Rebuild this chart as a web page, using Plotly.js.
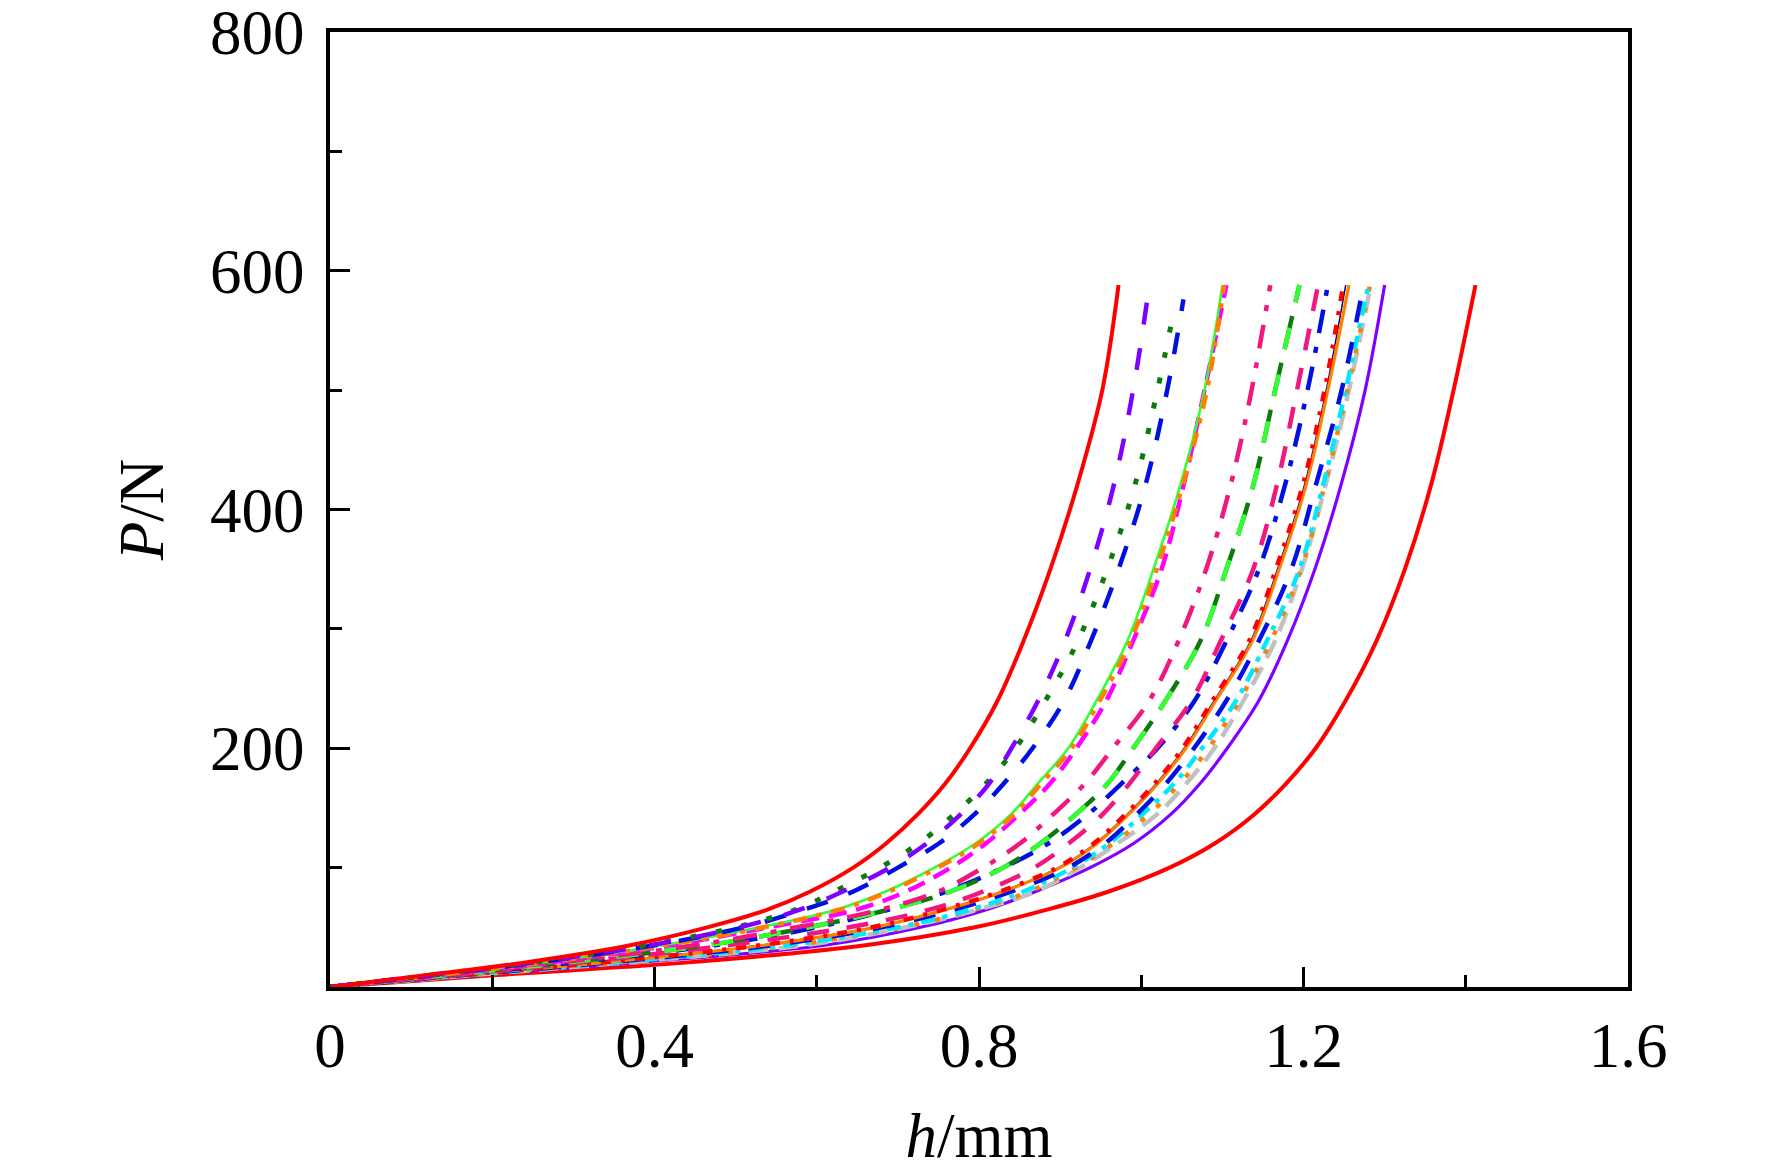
<!DOCTYPE html>
<html>
<head>
<meta charset="utf-8">
<script src="https://cdn.plot.ly/plotly-3.0.1.min.js"></script>
<style>
  html, body { margin: 0; padding: 0; background: #fff; }
  #chart { width: 1772px; height: 1171px; }
</style>
</head>
<body>
<div id="chart"></div>
<script>
// ---------- data (P in N, h in mm) ----------
const pLevels   = [0, 10, 20, 35, 50, 65, 80, 100, 120, 145, 170, 200, 240, 290, 350, 420, 500, 588];
const pDotGreen = [0, 10, 20, 35, 50, 65, 80, 100, 120, 145, 170, 200, 240, 290, 350, 420, 500, 566];
const pDashBlue = [0, 10, 20, 35, 50, 65, 80, 100, 120, 145, 170, 200, 240, 290, 350, 420, 500, 576];

const hRedLeft     = [0, 0.120, 0.235, 0.370, 0.465, 0.540, 0.592, 0.645, 0.685, 0.725, 0.758, 0.789, 0.823, 0.855, 0.888, 0.921, 0.952, 0.972];
const hPurpleDash  = [0, 0.125, 0.245, 0.395, 0.505, 0.580, 0.632, 0.690, 0.735, 0.778, 0.812, 0.840, 0.873, 0.906, 0.937, 0.966, 0.990, 1.010];
const hGreenDot    = [0, 0.125, 0.245, 0.390, 0.500, 0.575, 0.622, 0.678, 0.725, 0.770, 0.808, 0.845, 0.882, 0.922, 0.958, 0.992, 1.020, 1.040];
const hBlueDash    = [0, 0.128, 0.250, 0.400, 0.510, 0.585, 0.645, 0.700, 0.750, 0.795, 0.830, 0.866, 0.905, 0.938, 0.972, 1.005, 1.032, 1.052];
const hLimeSolid   = [0, 0.130, 0.255, 0.410, 0.530, 0.625, 0.685, 0.745, 0.795, 0.840, 0.872, 0.910, 0.945, 0.983, 1.015, 1.048, 1.078, 1.100];
const hOrangeDD    = [0, 0.132, 0.258, 0.413, 0.534, 0.629, 0.689, 0.749, 0.799, 0.844, 0.876, 0.914, 0.949, 0.987, 1.019, 1.051, 1.081, 1.102];
const hMagentaDash = [0, 0.135, 0.265, 0.420, 0.540, 0.650, 0.710, 0.765, 0.808, 0.850, 0.887, 0.920, 0.957, 0.990, 1.025, 1.052, 1.078, 1.105];
const hPinkDD      = [0, 0.140, 0.275, 0.450, 0.575, 0.680, 0.750, 0.805, 0.850, 0.892, 0.930, 0.965, 1.010, 1.046, 1.080, 1.110, 1.136, 1.159];
const hLimeDash    = [0, 0.145, 0.285, 0.465, 0.590, 0.690, 0.765, 0.830, 0.875, 0.920, 0.958, 0.990, 1.030, 1.073, 1.105, 1.138, 1.165, 1.195];
const hBlueDD      = [0, 0.150, 0.295, 0.475, 0.600, 0.690, 0.760, 0.830, 0.885, 0.935, 0.975, 1.020, 1.066, 1.105, 1.145, 1.177, 1.205, 1.230];
const hPinkDash    = [0, 0.150, 0.300, 0.490, 0.640, 0.740, 0.805, 0.868, 0.910, 0.953, 0.985, 1.018, 1.062, 1.098, 1.138, 1.167, 1.192, 1.218];
const hRedDD       = [0, 0.160, 0.325, 0.530, 0.668, 0.756, 0.826, 0.896, 0.941, 0.981, 1.016, 1.051, 1.088, 1.133, 1.166, 1.199, 1.226, 1.249];
const hNavy        = [0, 0.160, 0.327, 0.532, 0.670, 0.758, 0.828, 0.898, 0.943, 0.983, 1.018, 1.053, 1.090, 1.135, 1.168, 1.201, 1.228, 1.252];
const hOrangeSolid = [0, 0.162, 0.330, 0.535, 0.672, 0.760, 0.830, 0.900, 0.945, 0.985, 1.020, 1.055, 1.092, 1.137, 1.170, 1.203, 1.230, 1.256];
const hBlueDash2   = [0, 0.165, 0.335, 0.545, 0.680, 0.770, 0.840, 0.910, 0.955, 0.995, 1.030, 1.065, 1.105, 1.145, 1.185, 1.215, 1.247, 1.274];
const hCyanDD      = [0, 0.170, 0.345, 0.565, 0.700, 0.790, 0.855, 0.915, 0.960, 1.002, 1.040, 1.075, 1.117, 1.155, 1.195, 1.224, 1.252, 1.280];
const hOrangeDot   = [0, 0.172, 0.350, 0.570, 0.705, 0.795, 0.862, 0.920, 0.965, 1.010, 1.047, 1.083, 1.121, 1.160, 1.197, 1.226, 1.254, 1.282];
const hGrayDash    = [0, 0.175, 0.355, 0.585, 0.710, 0.800, 0.870, 0.925, 0.970, 1.020, 1.055, 1.090, 1.126, 1.165, 1.198, 1.227, 1.256, 1.283];
const hPurpleSolid = [0, 0.180, 0.370, 0.610, 0.728, 0.810, 0.870, 0.937, 0.990, 1.037, 1.072, 1.106, 1.145, 1.180, 1.214, 1.246, 1.276, 1.300];
const hRedRight    = [0, 0.205, 0.430, 0.660, 0.795, 0.885, 0.960, 1.035, 1.090, 1.140, 1.178, 1.215, 1.252, 1.290, 1.325, 1.357, 1.385, 1.412];

// ---------- traces ----------
function curve(h, p, color, width, dash) {
    return {
        x: h, y: p, type: "scatter", mode: "lines", hoverinfo: "skip",
        line: { color: color, width: width, dash: dash, shape: "spline", smoothing: 1.0 }
    };
}

const traces = [
    curve(hRedRight,    pLevels,   "#ff0000", 4, "solid"),
    curve(hPurpleSolid, pLevels,   "#8000ff", 3.2, "solid"),
    curve(hGrayDash,    pLevels,   "#c0c0c0", 4.5, "20px,10px"),
    curve(hOrangeDot,   pLevels,   "#ff8000", 4.5, "5px,16px"),
    curve(hCyanDD,      pLevels,   "#00e8ff", 4.5, "14px,8px,5px,8px"),
    curve(hBlueDash2,   pLevels,   "#0010e0", 4.5, "22px,20px"),
    curve(hNavy,        pLevels,   "#000080", 1.5, "solid"),
    curve(hOrangeSolid, pLevels,   "#ff8000", 3.2, "solid"),
    curve(hRedDD,       pLevels,   "#ff0000", 4.5, "10px,10px,4px,10px"),
    curve(hBlueDD,      pLevels,   "#0010e0", 4.5, "24px,14px,6px,14px"),
    curve(hPinkDash,    pLevels,   "#f0187f", 4.5, "22px,18px"),
    curve(hLimeDash,    pLevels,   "#0e7a0e", 4.5, "34px,14px"),
    curve(hLimeDash,    pLevels,   "#33ff33", 4.5, "22px,26px"),
    curve(hPinkDD,      pLevels,   "#f0187f", 4.5, "24px,14px,6px,14px"),
    curve(hMagentaDash, pLevels,   "#ff00ff", 4.5, "18px,10px"),
    curve(hLimeSolid,   pLevels,   "#33ff33", 2.6, "solid"),
    curve(hOrangeDD,    pLevels,   "#ff8000", 4.5, "14px,10px,5px,10px"),
    curve(hBlueDash,    pDashBlue, "#0010e0", 4.5, "22px,22px"),
    curve(hGreenDot,    pDotGreen, "#0e7a0e", 5, "6px,20px"),
    curve(hPurpleDash,  pLevels,   "#8000ff", 4.5, "22px,24px"),
    curve(hRedLeft,     pLevels,   "#ff0000", 4, "solid")
];

// ---------- layout ----------
const serif = "Liberation Serif, Times New Roman, serif";

const axisCommon = {
    showgrid: false,
    zeroline: false,
    showline: true,
    linecolor: "#000",
    linewidth: 4,
    mirror: true,
    ticks: "inside",
    ticklen: 20,
    tickwidth: 3,
    tickcolor: "#000",
    ticklabeloverflow: "allow",
    tickfont: { family: serif, size: 63, color: "#000" },
    fixedrange: true
};

const layout = {
    width: 1772,
    height: 1171,
    margin: { l: 330, r: 144, t: 32, b: 184 },
    paper_bgcolor: "#fff",
    plot_bgcolor: "#fff",
    showlegend: false,
    font: { family: serif, color: "#000" },
    xaxis: Object.assign({}, axisCommon, {
        range: [0, 1.6],
        tickvals: [0, 0.4, 0.8, 1.2, 1.6],
        ticktext: ["0", "0.4", "0.8", "1.2", "1.6"],
        ticklabelstandoff: 0,
        minor: { dtick: 0.2, ticks: "inside", ticklen: 12, tickwidth: 3, tickcolor: "#000" },
        title: { text: "<i>h</i>/mm", font: { family: serif, size: 63, color: "#000" }, standoff: 47 }
    }),
    yaxis: Object.assign({}, axisCommon, {
        range: [0, 800],
        tickvals: [200, 400, 600, 800],
        ticktext: ["200", "400", "600", "800"],
        ticklabelstandoff: 9,
        minor: { dtick: 100, ticks: "inside", ticklen: 12, tickwidth: 3, tickcolor: "#000" },
        title: { text: "<i>P</i>/N", font: { family: serif, size: 63, color: "#000" }, standoff: 27 }
    })
};

Plotly.newPlot("chart", traces, layout, { staticPlot: true, displayModeBar: false });
</script>
</body>
</html>
